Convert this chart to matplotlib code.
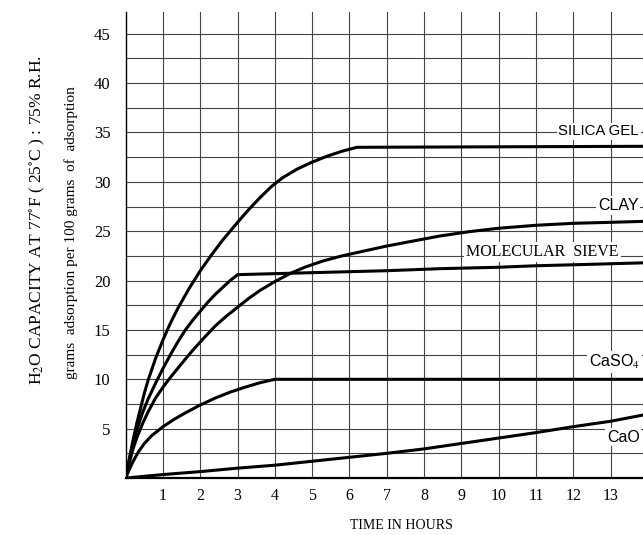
import matplotlib.pyplot as plt

plt.rcParams['mathtext.fontset'] = 'stix'

# Water uptake (g per 100 g of adsorbent) vs time in hours
silica_t = [0, 0.1, 0.2, 0.3, 0.4, 0.5, 0.6, 0.8, 1.0, 1.2, 1.4, 1.7, 2.0, 2.3, 2.6, 3.0,
            3.3, 3.6, 3.9, 4.2, 4.6, 5.0, 5.4, 5.8, 6.2, 13.9]
silica_v = [0, 2.0, 3.9, 5.6, 7.1, 8.6, 9.9, 12.1, 14.0, 15.7, 17.2, 19.2, 21.0, 22.6, 24.1, 25.9,
            27.2, 28.4, 29.5, 30.4, 31.3, 32.0, 32.6, 33.1, 33.5, 33.6]

sieve_t = [0, 0.1, 0.2, 0.3, 0.45, 0.6, 0.8, 1.0, 1.2, 1.4, 1.6, 1.8, 2.0, 2.2, 2.4, 2.6, 2.8, 3.0,
           4.0, 5.0, 6.0, 7.0, 8.4, 10.0, 11.0, 12.5, 13.9]
sieve_v = [0, 1.9, 3.5, 4.9, 6.6, 8.0, 9.6, 11.1, 12.5, 13.8, 15.0, 16.0, 16.9, 17.8, 18.6, 19.3, 20.0, 20.6,
           20.7, 20.8, 20.9, 21.0, 21.2, 21.35, 21.5, 21.65, 21.8]

clay_t = [0, 0.1, 0.2, 0.3, 0.45, 0.6, 0.8, 1.0, 1.2, 1.5, 1.8, 2.1, 2.4, 2.7, 3.0, 3.3, 3.6, 4.0,
          4.4, 4.8, 5.3, 5.8, 6.4, 7.0, 7.7, 8.4, 9.2, 10.0, 11.0, 12.0, 13.0, 13.9]
clay_v = [0, 1.6, 3.0, 4.1, 5.5, 6.7, 8.1, 9.2, 10.2, 11.6, 12.95, 14.2, 15.4, 16.4, 17.3, 18.2, 19.0, 19.9,
          20.7, 21.35, 22.0, 22.5, 23.0, 23.5, 24.0, 24.5, 24.95, 25.3, 25.6, 25.8, 25.9, 26.0]

caso4_t = [0, 0.1, 0.2, 0.35, 0.5, 0.7, 1.0, 1.3, 1.6, 2.0, 2.4, 2.8, 3.2, 3.6, 4.0, 13.9]
caso4_v = [0, 0.9, 1.7, 2.7, 3.5, 4.3, 5.2, 5.95, 6.6, 7.4, 8.1, 8.7, 9.2, 9.65, 10.0, 10.0]

cao_t = [0, 1, 2, 3, 4, 5, 6, 7, 8, 9, 10, 11, 12, 13, 13.9]
cao_v = [0, 0.35, 0.65, 1.0, 1.3, 1.7, 2.1, 2.5, 2.95, 3.5, 4.05, 4.6, 5.2, 5.75, 6.4]

hours = list(range(1, 14))
capacity_ticks = [5, 10, 15, 20, 25, 30, 35, 40, 45]
half_steps = [2.5, 7.5, 12.5, 17.5, 22.5, 27.5, 32.5, 37.5, 42.5]

fig = plt.figure(figsize=(6.43, 5.35), dpi=100)
ax = fig.add_axes([0.1955, 0.1065, 0.8045, 0.871])

for t, v in [(silica_t, silica_v), (sieve_t, sieve_v), (clay_t, clay_v),
             (caso4_t, caso4_v), (cao_t, cao_v)]:
    ax.plot(t, v, color='black', lw=2.2, solid_joinstyle='round', zorder=4)

ax.set_xlim(0, 13.87)
ax.set_ylim(0, 47.2)

ax.set_xticks(hours)
ax.set_xticklabels([str(h) for h in hours], family='Liberation Serif', fontsize=11.5)
ax.set_yticks(capacity_ticks)
ax.set_yticklabels([str(c) for c in capacity_ticks], family='Liberation Serif', fontsize=12)
ax.set_yticks(half_steps, minor=True)
ax.tick_params(which='both', length=0)
ax.tick_params(axis='x', pad=7)
ax.tick_params(axis='y', pad=11)

ax.grid(True, which='both', color='#444444', lw=0.8)
ax.set_axisbelow(True)

for side in ['top', 'right']:
    ax.spines[side].set_visible(False)
ax.spines['left'].set_linewidth(1.0)
ax.spines['bottom'].set_linewidth(1.6)

# curve names sit on the grid, with a white patch behind them
box = dict(boxstyle='square,pad=0.12', fc='white', ec='none')
ax.text(11.6, 35.1, 'SILICA GEL', family='Liberation Sans', fontsize=10.8,
        va='center', ha='left', bbox=box, zorder=3)
ax.text(12.66, 27.6, 'CLAY', family='Liberation Sans', fontsize=11.5,
        va='center', ha='left', bbox=box, zorder=3)
ax.text(9.13, 22.9, 'MOLECULAR  SIEVE', family='Liberation Serif', fontsize=11.5,
        va='center', ha='left', bbox=box, zorder=3)
ax.text(12.42, 11.75, 'CaSO$_4$', family='Liberation Sans', fontsize=11.5,
        va='center', ha='left', bbox=box, zorder=3)
ax.text(12.9, 4.15, 'CaO', family='Liberation Sans', fontsize=11.5,
        va='center', ha='left', bbox=box, zorder=3)

fig.text(0.625, 0.017, 'TIME IN HOURS', family='Liberation Serif', fontsize=10,
         ha='center', va='center')
fig.text(0.058, 0.589, r'H$_2$O CAPACITY AT 77$^{\circ}$F ( 25$^{\circ}$C ) : 75% R.H.',
         family='Liberation Serif', fontsize=12.5, rotation=90, ha='center', va='center')
fig.text(0.11, 0.566, 'grams  adsorption per 100 grams  of  adsorption',
         family='Liberation Serif', fontsize=11, rotation=90, ha='center', va='center')

fig.savefig('out.png', dpi=100)
